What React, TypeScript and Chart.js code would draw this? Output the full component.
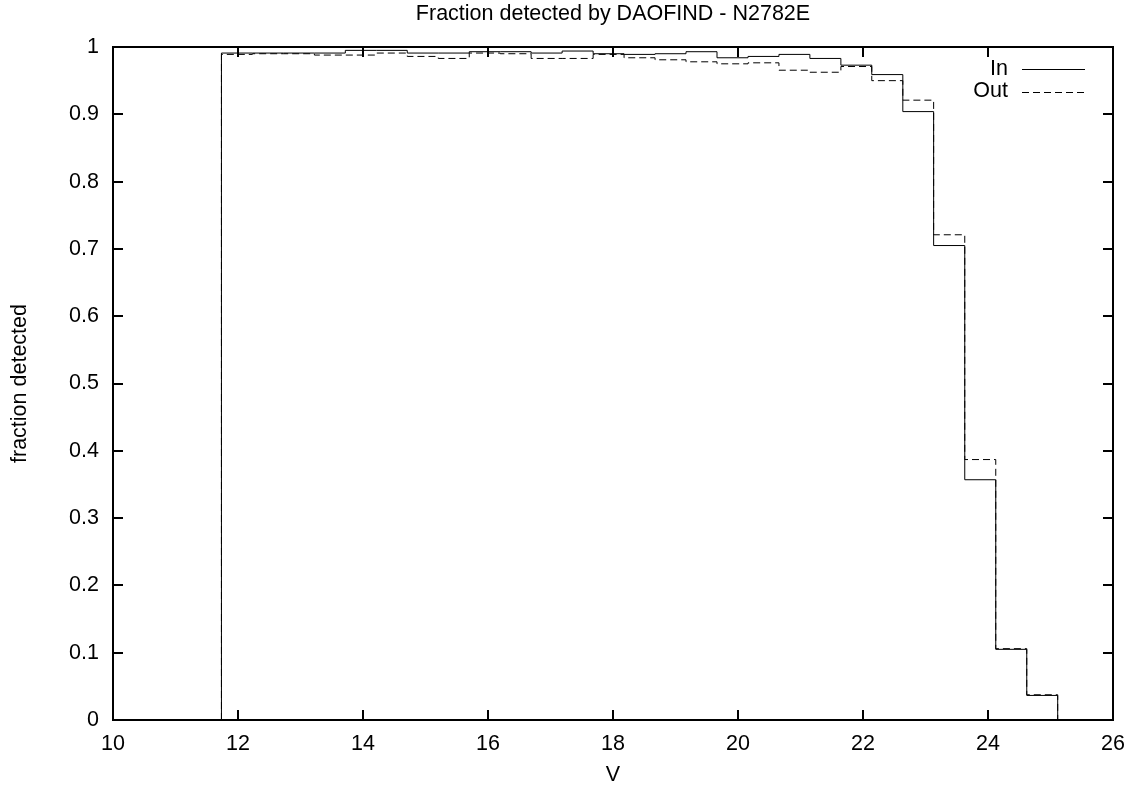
import React, { useEffect, useRef } from "react";
import { Chart, registerables } from "chart.js";

Chart.register(...registerables);

const chartTitle = "Fraction detected by DAOFIND - N2782E";
const xTitle = "V";
const yTitle = "fraction detected";

// bin edges in V (28 edges -> 27 bins)
const binEdges = [
  11.735, 12.23, 12.726, 13.222, 13.717, 14.213, 14.708, 15.204, 15.7, 16.195,
  16.69, 17.186, 17.682, 18.177, 18.673, 19.168, 19.664, 20.16, 20.655, 21.15,
  21.646, 22.14, 22.637, 23.13, 23.628, 24.124, 24.62, 25.115,
];

const inValues = [
  0.991, 0.991, 0.991, 0.991, 0.995, 0.995, 0.991, 0.991, 0.993, 0.993,
  0.991, 0.994, 0.99, 0.989, 0.99, 0.993, 0.984, 0.986, 0.989, 0.983,
  0.973, 0.959, 0.904, 0.705, 0.357, 0.105, 0.0365,
];

const outValues = [
  0.989, 0.99, 0.99, 0.988, 0.988, 0.991, 0.986, 0.983, 0.991, 0.99,
  0.983, 0.983, 0.989, 0.984, 0.981, 0.978, 0.975, 0.9765, 0.9655, 0.9625,
  0.971, 0.95, 0.921, 0.721, 0.387, 0.106, 0.0375,
];

const xTickValues = [10, 12, 14, 16, 18, 20, 22, 24, 26];
const xTickLabels = ["10", "12", "14", "16", "18", "20", "22", "24", "26"];
const yTickValues = [0, 0.1, 0.2, 0.3, 0.4, 0.5, 0.6, 0.7, 0.8, 0.9, 1];
const yTickLabels = ["0", "0.1", "0.2", "0.3", "0.4", "0.5", "0.6", "0.7", "0.8", "0.9", "1"];

const FONT_FAMILY = "'Liberation Sans', Arial, Helvetica, sans-serif";
const FONT_SIZE = 21.5;

function stepPoints(edges: number[], values: number[]) {
  const pts: { x: number; y: number }[] = [{ x: edges[0], y: 0 }];
  values.forEach((v, i) => pts.push({ x: edges[i], y: v }));
  pts.push({ x: edges[edges.length - 1], y: 0 });
  return pts;
}

const framePlugin = {
  id: "gnuframe",
  afterDatasetsDraw(chart: any) {
    const { ctx, chartArea } = chart;
    const { left, right, top, bottom } = chartArea;
    const xs = chart.scales.x;
    const ys = chart.scales.y;
    ctx.save();
    ctx.strokeStyle = "#000";
    ctx.lineWidth = 2;
    ctx.setLineDash([]);
    ctx.strokeRect(left, top, right - left, bottom - top);
    ctx.beginPath();
    for (const v of xTickValues) {
      const px = Math.round(xs.getPixelForValue(v));
      ctx.moveTo(px, bottom);
      ctx.lineTo(px, bottom - 10);
      ctx.moveTo(px, top);
      ctx.lineTo(px, top + 10);
    }
    for (const v of yTickValues) {
      const py = Math.round(ys.getPixelForValue(v));
      ctx.moveTo(left, py);
      ctx.lineTo(left + 10, py);
      ctx.moveTo(right, py);
      ctx.lineTo(right - 10, py);
    }
    ctx.stroke();

    // title
    ctx.fillStyle = "#000";
    ctx.font = `${FONT_SIZE}px ${FONT_FAMILY}`;
    ctx.textAlign = "center";
    ctx.textBaseline = "middle";
    ctx.fillText(chartTitle, (left + right) / 2, 14);

    // legend (gnuplot style: text then sample)
    chart.data.datasets.forEach((ds: any, i: number) => {
      const ly = 69 + i * 22.5;
      ctx.textAlign = "right";
      ctx.fillText(ds.label, 1008, ly);
      ctx.beginPath();
      ctx.lineWidth = ds.borderWidth;
      ctx.strokeStyle = ds.borderColor;
      ctx.setLineDash(ds.borderDash || []);
      ctx.moveTo(1022, Math.round(ly) + 0.5);
      ctx.lineTo(1085, Math.round(ly) + 0.5);
      ctx.stroke();
    });
    ctx.restore();
  },
};

export default function App() {
  const ref = useRef<HTMLCanvasElement | null>(null);
  useEffect(() => {
    if (!ref.current) return;
    const chart = new Chart(ref.current, {
      type: "line",
      data: {
        datasets: [
          {
            label: "In",
            data: stepPoints(binEdges, inValues),
            borderColor: "#000",
            borderWidth: 1,
            pointRadius: 0,
            stepped: "before",
            fill: false,
          },
          {
            label: "Out",
            data: stepPoints(binEdges, outValues),
            borderColor: "#000",
            borderWidth: 1,
            borderDash: [7, 4],
            pointRadius: 0,
            stepped: "before",
            fill: false,
          },
        ],
      },
      options: {
        responsive: false,
        animation: false,
        parsing: false,
        layout: { padding: { left: 0, right: 20, top: 47, bottom: 0 } },
        plugins: {
          legend: { display: false },
          tooltip: { enabled: false },
          title: { display: false },
        },
        scales: {
          x: {
            type: "linear",
            min: 10,
            max: 26,
            grid: { display: false, drawTicks: false },
            border: { display: false },
            afterBuildTicks: (scale: any) => {
              scale.ticks = xTickValues.map((v) => ({ value: v }));
            },
            afterFit: (scale: any) => {
              scale.height = 66;
              scale.paddingLeft = 0;
              scale.paddingRight = 0;
            },
            ticks: {
              color: "#000",
              padding: 11,
              maxRotation: 0,
              autoSkip: false,
              font: { family: FONT_FAMILY, size: FONT_SIZE },
              callback: (_v: any, i: number) => xTickLabels[i],
            },
            title: {
              display: true,
              text: xTitle,
              color: "#000",
              font: { family: FONT_FAMILY, size: FONT_SIZE },
              padding: { top: 0, bottom: -2 },
            },
          },
          y: {
            type: "linear",
            min: 0,
            max: 1,
            grid: { display: false, drawTicks: false },
            border: { display: false },
            afterBuildTicks: (scale: any) => {
              scale.ticks = yTickValues.map((v) => ({ value: v }));
            },
            afterFit: (scale: any) => {
              scale.width = 113;
              scale.paddingTop = 0;
              scale.paddingBottom = 0;
            },
            ticks: {
              color: "#000",
              padding: 14,
              autoSkip: false,
              font: { family: FONT_FAMILY, size: FONT_SIZE },
              callback: (_v: any, i: number) => yTickLabels[i],
            },
            title: {
              display: true,
              text: yTitle,
              color: "#000",
              font: { family: FONT_FAMILY, size: FONT_SIZE },
              padding: { top: 7, bottom: 0 },
            },
          },
        },
      },
      plugins: [framePlugin],
    });
    return () => chart.destroy();
  }, []);
  return (
    <div style={{ position: "fixed", left: 0, top: 0, width: 1133, height: 786, background: "#fff" }}>
      <canvas ref={ref} width={1133} height={786} style={{ display: "block" }} />
    </div>
  );
}
